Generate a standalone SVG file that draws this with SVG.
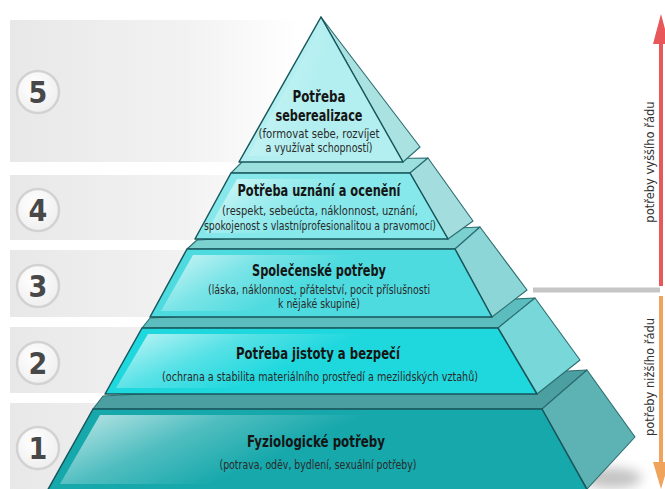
<svg xmlns="http://www.w3.org/2000/svg" width="665" height="489" viewBox="0 0 665 489">
<defs>
<linearGradient id="band" x1="0" y1="0" x2="1" y2="0">
<stop offset="0" stop-color="#e8e8e8"/>
<stop offset="0.55" stop-color="#f2f2f2"/>
<stop offset="0.9" stop-color="#ffffff"/>
</linearGradient>
<radialGradient id="badge" cx="0.4" cy="0.35" r="0.7">
<stop offset="0" stop-color="#ffffff"/>
<stop offset="1" stop-color="#eeeeee"/>
</radialGradient>
<linearGradient id="hl" x1="0" y1="0" x2="1" y2="0.3">
<stop offset="0" stop-color="#ffffff" stop-opacity="0.75"/>
<stop offset="0.3" stop-color="#ffffff" stop-opacity="0.25"/>
<stop offset="0.55" stop-color="#ffffff" stop-opacity="0"/>
</linearGradient>
<filter id="blur" x="-50%" y="-50%" width="200%" height="200%">
<feGaussianBlur stdDeviation="6"/>
</filter>
</defs>
<style>
.band{fill:url(#band)}
.ring{fill:url(#badge);stroke:#d2d2d2;stroke-width:2.5}
.num{font-family:"DejaVu Sans Condensed","DejaVu Sans",sans-serif;font-stretch:condensed;font-weight:bold;font-size:30px;fill:#484848;text-anchor:middle}
.front{stroke:#17565b;stroke-width:1.5;stroke-linejoin:round}
.side{stroke:#2c6d70;stroke-width:1.1;stroke-linejoin:round}
.hl{fill:url(#hl)}
.t{font-family:"DejaVu Sans Condensed","DejaVu Sans",sans-serif;font-stretch:condensed;font-weight:bold;font-size:15.5px;fill:#151515;text-anchor:middle}
.s{font-family:"DejaVu Sans Condensed","DejaVu Sans",sans-serif;font-stretch:condensed;font-size:11.5px;fill:#2a2a2a;text-anchor:middle}
.lab{font-family:"DejaVu Sans",Verdana,sans-serif;font-size:11.5px;fill:#333333;text-anchor:middle}
</style>
<rect width="665" height="489" fill="#ffffff"/>
<g id="bands">
<rect class="band" x="10" y="20" width="320" height="142"/>
<rect class="band" x="10" y="175" width="320" height="65"/>
<rect class="band" x="10" y="250" width="320" height="67"/>
<rect class="band" x="10" y="327" width="320" height="66"/>
<rect class="band" x="10" y="403" width="320" height="86"/>
</g>
<g id="badge-5"><circle class="ring" cx="38" cy="92" r="21"/><text class="num" x="38" y="103">5</text></g>
<g id="badge-4"><circle class="ring" cx="38" cy="210" r="21"/><text class="num" x="38" y="221">4</text></g>
<g id="badge-3"><circle class="ring" cx="38" cy="286" r="21"/><text class="num" x="38" y="297">3</text></g>
<g id="badge-2"><circle class="ring" cx="38" cy="363" r="21"/><text class="num" x="38" y="374">2</text></g>
<g id="badge-1"><circle class="ring" cx="38" cy="448" r="21"/><text class="num" x="38" y="459">1</text></g>
<ellipse cx="612" cy="478" rx="30" ry="10" fill="#9a9a9a" opacity="0.6" filter="url(#blur)"/>
<g id="level-1">
<polygon class="side" fill="#4b9fa0" points="103,396 587,370 542,409 93,409"/>
<polygon class="side" fill="#5db2b3" points="542,409 587,370 635,437 587,489"/>
<polygon class="front" fill="#16a8ab" points="93,409 542,409 589,493 46,493"/>
<polygon class="hl" points="100,415 536,415 576,484 60,484"/>
<text class="t" x="316" y="447" textLength="138" lengthAdjust="spacingAndGlyphs">Fyziologické potřeby</text>
<text class="s" x="318" y="469" textLength="197" lengthAdjust="spacingAndGlyphs">(potrava, oděv, bydlení, sexuální potřeby)</text>
</g>
<g id="level-2">
<polygon class="side" fill="#5bbdbd" points="150,318 535,298 498,328 142,328"/>
<polygon class="side" fill="#78d8d9" points="498,328 535,298 580,360 537,394"/>
<polygon class="front" fill="#1fd8de" points="142,328 498,328 537,394 105,394"/>
<polygon class="hl" points="148,334 492,334 527,388 116,388"/>
<text class="t" x="318" y="359" textLength="164" lengthAdjust="spacingAndGlyphs">Potřeba jistoty a bezpečí</text>
<text class="s" x="320" y="381" textLength="316" lengthAdjust="spacingAndGlyphs">(ochrana a stabilita materiálního prostředí a mezilidských vztahů)</text>
</g>
<g id="level-3">
<polygon class="side" fill="#7bd0d0" points="197,240 480,227 455,249 187,249"/>
<polygon class="side" fill="#8dd6d7" points="455,249 480,227 527,290 492,317"/>
<polygon class="front" fill="#4edbdf" points="187,249 455,249 492,317 150,317"/>
<polygon class="hl" points="193,255 449,255 482,311 161,311"/>
<text class="t" x="319" y="276" textLength="134" lengthAdjust="spacingAndGlyphs">Společenské potřeby</text>
<text class="s" x="319" y="294" textLength="222" lengthAdjust="spacingAndGlyphs">(láska, náklonnost, přátelství, pocit příslušnosti</text>
<text class="s" x="319" y="308" textLength="82" lengthAdjust="spacingAndGlyphs">k nějaké skupině)</text>
</g>
<g id="level-4">
<polygon class="side" fill="#9cdfdf" points="243,161 428,158 410,173 231,173"/>
<polygon class="side" fill="#a3dddd" points="410,173 428,158 473,221 448,239"/>
<polygon class="front" fill="#86e8ea" points="231,173 410,173 448,239 195,239"/>
<polygon class="hl" points="237,179 404,179 437,233 206,233"/>
<text class="t" x="319" y="196" textLength="163" lengthAdjust="spacingAndGlyphs">Potřeba uznání a ocenění</text>
<text class="s" x="320" y="215" textLength="196" lengthAdjust="spacingAndGlyphs">(respekt, sebeúcta, náklonnost, uznání,</text>
<text class="s" x="320" y="230" textLength="232" lengthAdjust="spacingAndGlyphs">spokojenost s vlastníprofesionalitou a pravomocí)</text>
</g>
<g id="level-5">
<polygon class="side" fill="#aae2e2" points="321,17 420,147 403,162"/>
<polygon class="front" fill="#b3eff0" points="321,17 239,162 403,162"/>
<polygon class="hl" points="321,27 248,156 396,156" opacity="0.7"/>
<text class="t" x="319" y="102" textLength="53" lengthAdjust="spacingAndGlyphs">Potřeba</text>
<text class="t" x="319" y="121" textLength="87" lengthAdjust="spacingAndGlyphs">seberealizace</text>
<text class="s" x="319" y="138" textLength="121" lengthAdjust="spacingAndGlyphs">(formovat sebe, rozvíjet</text>
<text class="s" x="319" y="152" textLength="107" lengthAdjust="spacingAndGlyphs">a využívat schopností)</text>
</g>
<g id="connectors">
<rect x="533" y="287.5" width="127" height="5" fill="#c6c6c6"/>
<line x1="661" y1="286" x2="661" y2="40" stroke="#e8575a" stroke-width="4"/>
<polygon points="661,14 653,44 669,44" fill="#e8575a"/>
<line x1="661" y1="296" x2="661" y2="465" stroke="#f0a35a" stroke-width="4"/>
<polygon points="653,462 669,462 661,489" fill="#f0a35a"/>
<text class="lab" transform="translate(654,162) rotate(-90)">potřeby vyššího řádu</text>
<text class="lab" transform="translate(654,377) rotate(-90)">potřeby nižšího řádu</text>
</g>
</svg>
